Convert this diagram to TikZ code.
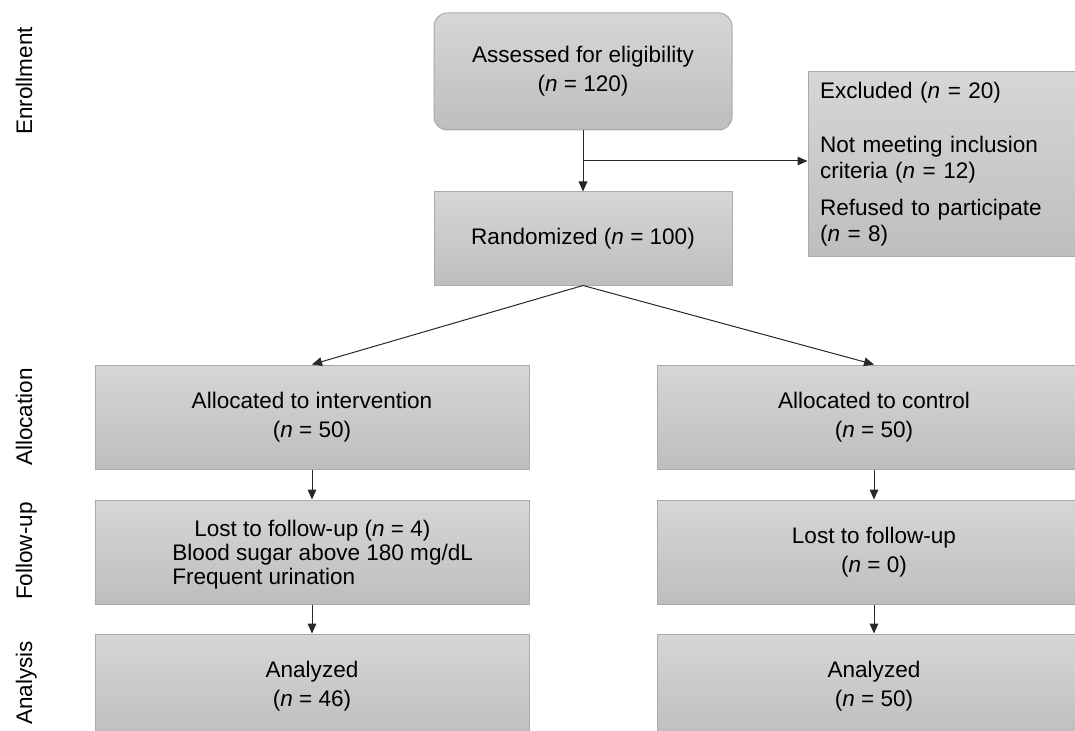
\documentclass[tikz,border=0pt]{standalone}
\usepackage{fontspec}
\setmainfont{Liberation Sans}
\usetikzlibrary{arrows.meta}
\definecolor{boxtop}{RGB}{214,214,214}
\definecolor{boxbot}{RGB}{190,190,190}
\definecolor{boxline}{RGB}{170,170,170}
\definecolor{arrline}{RGB}{40,40,40}
\begin{document}
\begin{tikzpicture}[x=0.75pt,y=-0.75pt,
  box/.style={draw=boxline, line width=0.75pt, top color=boxtop, bottom color=boxbot,
    inner sep=0pt, align=center, font=\fontsize{16.9}{21.5}\selectfont},
  arr/.style={draw=arrline, line width=0.75pt, -{Triangle[length=7.5pt,width=6.5pt]}},
  phase/.style={rotate=90, anchor=base, inner sep=0pt, font=\fontsize{16.9}{20}\selectfont},
  txt/.style={inner sep=0pt, align=left, font=\fontsize{16.9}{18}\selectfont}]
\useasboundingbox (0,0) rectangle (1075,731);

% phase labels
\node[phase] (lenr) at (32,81) {Enrollment};
\node[phase] (lall) at (32,417) {Allocation};
\node[phase] (lfol) at (32,551) {Follow-up};
\node[phase] (lana) at (32,683) {Analysis};

% boxes
\node[box, rounded corners=10pt, minimum width=223.5pt, minimum height=87.75pt] (assess) at (583,71.5)
  {Assessed for eligibility\\(\textit{n} = 120)};
\node[box, minimum width=223.5pt, minimum height=69.75pt] (rand) at (583,238.5)
  {Randomized (\textit{n} = 100)};
\node[box, align=left, inner xsep=9pt, text width=194.25pt, minimum height=138.75pt,
  font=\fontsize{16.9}{19.5}\selectfont] (excl) at (949.5,164.5)
  {\raisebox{-1.5pt}{Excluded (\textit{n} = 20)}\\[22.5pt]Not meeting inclusion\\criteria (\textit{n} = 12)\\[8pt]Refused to participate\\(\textit{n} = 8)};

\node[box, minimum width=325.5pt, minimum height=78pt] (allocI) at (312,417)
  {Allocated to intervention\\(\textit{n} = 50)};
\node[box, minimum width=325.5pt, minimum height=78pt] (allocC) at (874,417)
  {Allocated to control\\(\textit{n} = 50)};
\node[box, minimum width=325.5pt, minimum height=78pt] (fuI) at (312,552) {};
\node[txt, anchor=west] (fuItxt) at (172,555)
  {\hspace*{16.5pt}Lost to follow-up (\textit{n} = 4)\\Blood sugar above 180 mg/dL\\Frequent urination};
\node[box, minimum width=325.5pt, minimum height=78pt] (fuC) at (874,552)
  {Lost to follow-up\\(\textit{n} = 0)};
\node[box, minimum width=325.5pt, minimum height=78pt] (anI) at (312,686)
  {Analyzed\\(\textit{n} = 46)};
\node[box, minimum width=325.5pt, minimum height=78pt] (anC) at (874,686)
  {Analyzed\\(\textit{n} = 50)};

% connectors
\coordinate (br) at (583,161);
\draw[arr] (assess.south) -- (rand.north);
\draw[arr] (br) -- (br -| excl.west);
\draw[arr] (rand.south) -- (allocI.north);
\draw[arr] (rand.south) -- (allocC.north);
\draw[arr] (allocI.south) -- (fuI.north);
\draw[arr] (fuI.south) -- (anI.north);
\draw[arr] (allocC.south) -- (fuC.north);
\draw[arr] (fuC.south) -- (anC.north);
\end{tikzpicture}
\end{document}
